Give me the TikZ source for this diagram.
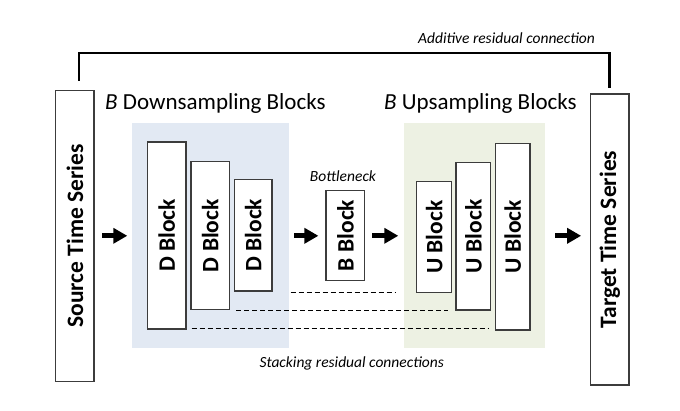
\documentclass[tikz,border=0pt]{standalone}
\usepackage{fontspec}
\setmainfont{Carlito}
\usetikzlibrary{arrows.meta,calc}
\definecolor{blueregion}{RGB}{226,233,243}
\definecolor{greenregion}{RGB}{237,241,227}
\definecolor{boxline}{RGB}{60,60,60}
\tikzset{
  region/.style={draw=none,inner sep=0pt,anchor=north west},
  blk/.style={draw=boxline,line width=1.2pt,fill=white,rotate=90,inner sep=0pt,
    font=\fontsize{23.5}{27}\selectfont\bfseries},
  bigarrow/.style={line width=5pt,-{Triangle[length=14pt,width=15pt]}},
  resid/.style={dashed,dash pattern=on 5pt off 3pt,line width=0.9pt},
  bracket/.style={line width=2.6pt},
  title/.style={font=\fontsize{23}{27}\selectfont,anchor=west,inner sep=0pt},
  note/.style={font=\fontsize{15.5}{18}\selectfont\itshape,inner sep=0pt}
}
\begin{document}
\begin{tikzpicture}[x=1pt,y=-1pt]
\useasboundingbox (0,0) rectangle (680,411);
% regions
\node[region,fill=blueregion,minimum width=156.7pt,minimum height=224.5pt] (down) at (132,123) {};
\node[region,fill=greenregion,minimum width=140.3pt,minimum height=225pt] (up) at (404,123.3) {};
% titles
\node[title] (downtitle) at (105,103) {\textit{B} Downsampling Blocks};
\node[title] (uptitle) at (384,103) {\textit{B} Upsampling Blocks};
% dashed residual connections
\coordinate (r1a) at (290.7,292); \coordinate (r1b) at (396,292);
\coordinate (r2a) at (236,310);   \coordinate (r2b) at (448,310);
\coordinate (r3a) at (191.7,328.3); \coordinate (r3b) at (489.3,328.3);
\draw[resid] (r1a) -- (r1b);
\draw[resid] (r2a) -- (r2b);
\draw[resid] (r3a) -- (r3b);
% blocks
\node[blk,minimum width=290.6pt,minimum height=38.3pt] (src) at (74.85,236) {Source Time Series};
\node[blk,minimum width=291pt,minimum height=38.3pt] (tgt) at (609.85,239.5) {Target Time Series};
\node[blk,minimum width=187pt,minimum height=38.7pt] (d1) at (166.65,235.5) {D Block};
\node[blk,minimum width=148pt,minimum height=38.3pt] (d2) at (210.15,235.7) {D Block};
\node[blk,minimum width=111.7pt,minimum height=37.7pt] (d3) at (253.15,235.15) {D Block};
\node[blk,minimum width=89.6pt,minimum height=38.7pt] (bb) at (345.35,235.5) {B Block};
\node[blk,minimum width=111pt,minimum height=35pt] (u1) at (434.2,237.2) {U Block};
\node[blk,minimum width=147.3pt,minimum height=34.7pt] (u2) at (473.35,236.35) {U Block};
\node[blk,minimum width=186.7pt,minimum height=34.7pt] (u3) at (512.65,236.65) {U Block};
% labels
\node[note] (bneck) at (343,176) {Bottleneck};
\node[note] (stacklbl) at (351.7,363) {Stacking residual connections};
\node[note] (addlbl) at (506.5,38.3) {Additive residual connection};
% arrows
\draw[bigarrow,shorten <=7.7pt,shorten >=4.7pt] (src.south |- 0,235.8) -- (down.west |- 0,235.8);
\draw[bigarrow,shorten <=5.3pt,shorten >=7pt] (down.east |- 0,235.8) -- (bb.north |- 0,235.8);
\draw[bigarrow,shorten <=7pt,shorten >=5.7pt] (bb.south |- 0,235.8) -- (up.west |- 0,235.8);
\draw[bigarrow,shorten <=10.7pt,shorten >=9pt] (up.east |- 0,235.8) -- (tgt.north |- 0,235.8);
% additive residual bracket
\coordinate (addL) at (79,80.7);
\coordinate (addR) at (609.3,88.3);
\draw[bracket] (addL) -- (79,53) -- (609.3,53) -- (addR);
\end{tikzpicture}
\end{document}
